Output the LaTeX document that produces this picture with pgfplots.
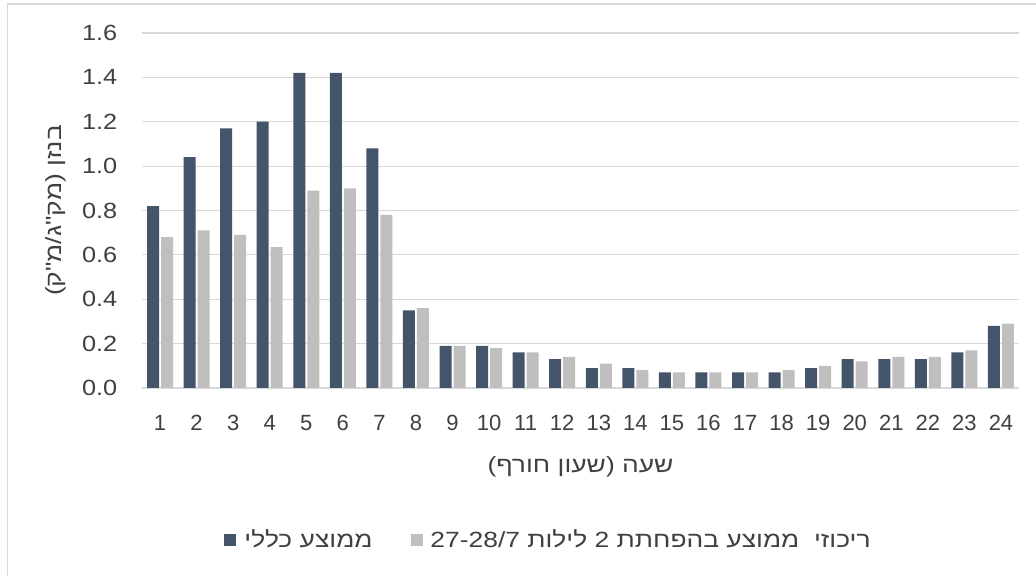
\documentclass[border=0pt]{standalone}
\usepackage{fontspec}
\setmainfont{Liberation Sans}
\newfontfamily\widefont[FakeStretch=1.15]{Liberation Sans}
\newfontfamily\hebfont[Script=Hebrew, FakeStretch=1.2]{Liberation Sans}
\TeXXeTstate=1
\usepackage{pgfplots}
\pgfplotsset{compat=1.18}

\definecolor{darkbar}{HTML}{44546A}
\definecolor{lightbar}{HTML}{BFBFBF}
\definecolor{gridc}{HTML}{D9D9D9}
\definecolor{txt}{HTML}{404040}

% Benzene, hourly means
\pgfplotstableread{
hour overall reduced
1  0.82 0.68
2  1.04 0.71
3  1.17 0.69
4  1.20 0.635
5  1.42 0.89
6  1.42 0.90
7  1.08 0.78
8  0.35 0.36
9  0.19 0.19
10 0.19 0.18
11 0.16 0.16
12 0.13 0.14
13 0.09 0.11
14 0.09 0.08
15 0.07 0.07
16 0.07 0.07
17 0.07 0.07
18 0.07 0.08
19 0.09 0.10
20 0.13 0.12
21 0.13 0.14
22 0.13 0.14
23 0.16 0.17
24 0.28 0.29
}\benzene

\begin{document}
\fontsize{22bp}{26bp}\selectfont%
\begin{tikzpicture}[x=1bp,y=1bp]
\useasboundingbox (0,0) rectangle (1036,576);
\fill[white] (0,0) rectangle (1036,576);
\draw[gridc, line width=1.5bp] (7.5,-10) -- (7.5,572) -- (1046,572);
\begin{axis}[
  at={(141.75bp,188bp)}, anchor=south west, scale only axis,
  width=877.5bp, height=355bp,
  xmin=0.5, xmax=24.5, ymin=0, ymax=1.6,
  ybar=2bp, bar width=12bp,
  axis line style={draw=none},
  major tick length=0pt,
  ymajorgrids, grid style={gridc, line width=1.2bp},
  xtick=data,
  ytick={0,0.2,0.4,0.6,0.8,1.0,1.2,1.4,1.6},
  /pgf/number format/assume math mode=true,
  yticklabel style={/pgf/number format/fixed, /pgf/number format/fixed zerofill,
    /pgf/number format/precision=1,
    font=\fontsize{22bp}{26bp}\widefont,
    anchor=east, xshift=-17bp, text=txt},
  xticklabel style={anchor=base, yshift=-43bp, text=txt},
  xlabel={\hebfont\beginR שעה (שעון חורף)\endR},
  xlabel style={at={(axis description cs:0.5,-0.2225)}, anchor=center, text=txt},
  ylabel={\hebfont\beginR בנזן (מק"ג/מ"ק)\endR},
  ylabel style={at={(axis description cs:-0.0977,0.5)}, anchor=center, text=txt},
  legend columns=2,
  legend style={at={(axis description cs:0.4635,-0.428)}, anchor=center,
    draw=none, fill=none, text=txt,
    /tikz/every odd column/.append style={column sep=6bp},
    /tikz/every even column/.append style={column sep=36bp}},
  legend image code/.code={\fill[#1] (0bp,-6bp) rectangle (12bp,6bp);},
]
\addplot[fill=darkbar, draw=none] table[x=hour, y=overall] {\benzene};
\addlegendentry{\hebfont\beginR ממוצע כללי\endR}
\addplot[fill=lightbar, draw=none] table[x=hour, y=reduced] {\benzene};
\addlegendentry{\hebfont\beginR ריכוזי\ \ ממוצע בהפחתת 2 לילות \beginL 27-28/7\endL\endR}
\end{axis}
\end{tikzpicture}
\end{document}
